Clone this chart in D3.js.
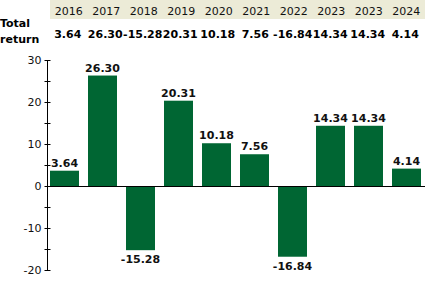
<!DOCTYPE html>
<html>
<head>
<meta charset="utf-8">
<script src="https://cdn.jsdelivr.net/npm/d3@7"></script>
<style>
  body { margin: 0; background: #ffffff; }
  text { font-family: 'DejaVu Sans', Verdana, sans-serif; }
</style>
</head>
<body>
<div id="graf"></div>
<script>
// Rentabilidad anual

years   = ['2016', '2017', '2018', '2019', '2020', '2021', '2022', '2023', '2023', '2024']
returns = [3.64, 26.30, -15.28, 20.31, 10.18, 7.56, -16.84, 14.34, 14.34, 4.14]
yTicks  = [-20, -10, 0, 10, 20, 30]
yMinor  = [-15, -5, 5, 15, 25]

ancho_total = 425
alto_total  = 288
verde = '#006633'

svg = d3.select('#graf').append('svg')
        .attr('width', ancho_total)
        .attr('height', alto_total)

idx = years.map((d, i) => i)

// Escaladores
x = d3.scaleBand()
      .domain(idx)
      .range([45.5, 425.5])
      .paddingInner(9 / 38)
      .paddingOuter(4.5 / 38)

y = d3.scaleLinear()
      .domain([-20, 30])
      .range([270, 60])

// columnas de la tabla de arriba
col = d3.scaleBand()
        .domain(idx)
        .range([50, 425])

// Cabecera
svg.append('rect')
  .attr('x', 50)
  .attr('y', 0)
  .attr('width', ancho_total - 50)
  .attr('height', 19)
  .attr('fill', '#ecebd7')

svg.selectAll('.year')
  .data(years)
  .enter()
  .append('text')
    .attr('class', 'year')
    .attr('x', (d, i) => col(i) + col.bandwidth() / 2)
    .attr('y', 15)
    .attr('text-anchor', 'middle')
    .attr('font-size', '11px')
    .attr('fill', '#111')
    .text(d => d)

svg.selectAll('.valor')
  .data(returns)
  .enter()
  .append('text')
    .attr('class', 'valor')
    .attr('x', (d, i) => col(i) + col.bandwidth() / 2 - 1)
    .attr('y', 38)
    .attr('text-anchor', 'middle')
    .attr('font-size', '11px')
    .attr('font-weight', 'bold')
    .attr('fill', '#000')
    .text(d => d.toFixed(2))

svg.append('text')
  .attr('x', 0)
  .attr('y', 27)
  .attr('font-size', '11px')
  .attr('font-weight', 'bold')
  .text('Total')
svg.append('text')
  .attr('x', 0)
  .attr('y', 43)
  .attr('font-size', '11px')
  .attr('font-weight', 'bold')
  .text('return')

// Barras
svg.selectAll('.bar')
  .data(returns)
  .enter()
  .append('rect')
    .attr('class', 'bar')
    .attr('x', (d, i) => x(i))
    .attr('width', x.bandwidth())
    .attr('y', d => y(Math.max(0, d)))
    .attr('height', d => Math.abs(y(d) - y(0)))
    .attr('fill', verde)

svg.selectAll('.etiqueta')
  .data(returns)
  .enter()
  .append('text')
    .attr('class', 'etiqueta')
    .attr('x', (d, i) => x(i) + x.bandwidth() / 2)
    .attr('y', d => d >= 0 ? y(d) - 4 : y(d) + 13)
    .attr('text-anchor', 'middle')
    .attr('font-size', '11px')
    .attr('font-weight', 'bold')
    .attr('fill', '#111')
    .text(d => d.toFixed(2))

// Eje Y
ejeX = 47.5
svg.append('line')
  .attr('x1', ejeX).attr('x2', ejeX)
  .attr('y1', y(30)).attr('y2', y(-20))
  .attr('stroke', 'black')

yTicks.concat(yMinor).forEach(t => {
  svg.append('line')
    .attr('x1', ejeX - 3).attr('x2', ejeX + 3)
    .attr('y1', Math.round(y(t)) + 0.5).attr('y2', Math.round(y(t)) + 0.5)
    .attr('stroke', 'black')
})

svg.selectAll('.ytick')
  .data(yTicks)
  .enter()
  .append('text')
    .attr('class', 'ytick')
    .attr('x', ejeX - 6)
    .attr('y', d => y(d) + 4)
    .attr('text-anchor', 'end')
    .attr('font-size', '11px')
    .attr('fill', '#111')
    .text(d => d)

// Linea del cero
svg.append('line')
  .attr('x1', ejeX).attr('x2', ancho_total)
  .attr('y1', Math.round(y(0)) + 0.5).attr('y2', Math.round(y(0)) + 0.5)
  .attr('stroke', 'black')
</script>
</body>
</html>
